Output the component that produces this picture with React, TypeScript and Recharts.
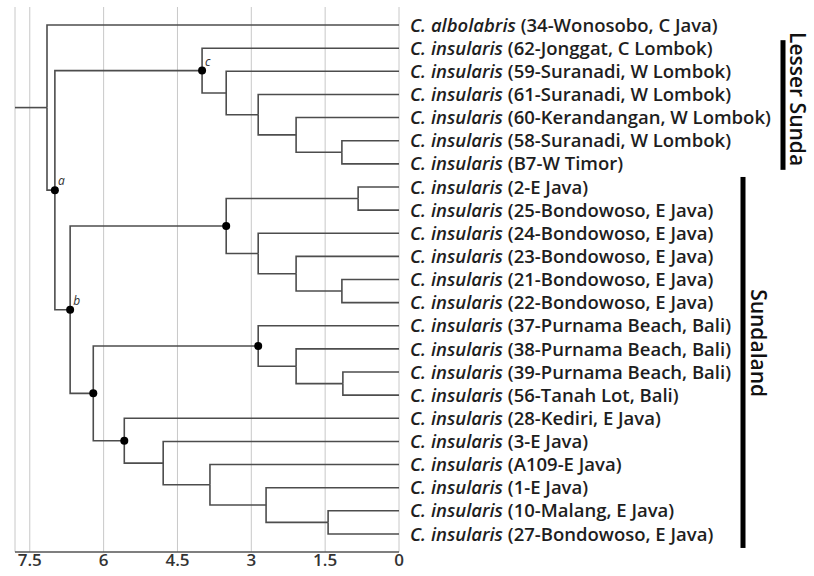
import { ComposedChart, Line, Scatter, XAxis, YAxis, CartesianGrid } from 'recharts';

// tips, top to bottom
const tipSpecies = [
  'albolabris', 'insularis', 'insularis', 'insularis', 'insularis', 'insularis', 'insularis',
  'insularis', 'insularis', 'insularis', 'insularis', 'insularis', 'insularis',
  'insularis', 'insularis', 'insularis', 'insularis',
  'insularis', 'insularis', 'insularis', 'insularis', 'insularis', 'insularis',
];
const tipLocality = [
  '34-Wonosobo, C Java', '62-Jonggat, C Lombok', '59-Suranadi, W Lombok', '61-Suranadi, W Lombok',
  '60-Kerandangan, W Lombok', '58-Suranadi, W Lombok', 'B7-W Timor',
  '2-E Java', '25-Bondowoso, E Java', '24-Bondowoso, E Java', '23-Bondowoso, E Java',
  '21-Bondowoso, E Java', '22-Bondowoso, E Java',
  '37-Purnama Beach, Bali', '38-Purnama Beach, Bali', '39-Purnama Beach, Bali', '56-Tanah Lot, Bali',
  '28-Kediri, E Java', '3-E Java', 'A109-E Java', '1-E Java', '10-Malang, E Java', '27-Bondowoso, E Java',
];

// internal nodes (ages in Ma), children are node ids or tip indices
const nodeIds = ['root', 'a', 'c', 'd', 'e', 'f', 'g', 'b', 'h', 'j', 'k', 'l', 'm', 'i', 'n', 'p', 'q', 'o', 'r', 's', 't', 'u'];
const nodeAges = [7.15, 6.99, 4.0, 3.51, 2.86, 2.09, 1.16, 6.68, 3.51, 0.83, 2.86, 2.09, 1.16, 6.21, 2.86, 2.09, 1.14, 5.58, 4.79, 3.84, 2.7, 1.44];
const nodeChildren: (string | number)[][] = [
  [0, 'a'], ['c', 'b'], [1, 'd'], [2, 'e'], [3, 'f'], [4, 'g'], [5, 6],
  ['h', 'i'], ['j', 'k'], [7, 8], [9, 'l'], [10, 'm'], [11, 12],
  ['n', 'o'], [13, 'p'], [14, 'q'], [15, 16],
  [17, 'r'], [18, 's'], [19, 't'], [20, 'u'], [21, 22],
];
const markedNodes = ['a', 'b', 'c', 'h', 'i', 'n', 'o'];
const nodeLabels: Record<string, string> = { a: 'a', b: 'b', c: 'c' };
const rootStubAge = 7.8;

const xTicks = [0, 1.5, 3, 4.5, 6, 7.5];
const clades = [
  { label: 'Lesser Sunda', first: 1, last: 6, labelRow: 3.2, barDx: 382, textDx: 396, top: 8, bottom: 6 },
  { label: 'Sundaland', first: 7, last: 22, labelRow: 13.75, barDx: 342, textDx: 357, top: 10, bottom: 14 },
];

const W = 814;
const H = 576;
const M = { top: 7, right: 0, bottom: 0, left: 15 };
const X_AXIS_H = 24;
const Y_DOMAIN: [number, number] = [-0.78, 22.78];
const ROW_PX = (H - M.top - M.bottom - X_AXIS_H) / (Y_DOMAIN[1] - Y_DOMAIN[0]);
const FONT = '"Open Sans", Lato, sans-serif';
const BRANCH = '#4d4d4d';

// layout: node y = mean of its children's rows
const nodeY: Record<string, number> = {};
const nodeAge: Record<string, number> = {};
nodeIds.forEach((id, k) => { nodeAge[id] = nodeAges[k]; });
const getY = (c: string | number): number => {
  if (typeof c === 'number') return c;
  if (nodeY[c] === undefined) {
    const kids = nodeChildren[nodeIds.indexOf(c)];
    nodeY[c] = kids.reduce((s, k) => s + getY(k), 0) / kids.length;
  }
  return nodeY[c];
};
nodeIds.forEach((id) => getY(id));
const getAge = (c: string | number) => (typeof c === 'number' ? 0 : nodeAge[c]);

const edges: { x: number; y: number }[][] = [];
nodeIds.forEach((id, k) => {
  nodeChildren[k].forEach((c) => {
    edges.push([
      { x: nodeAge[id], y: nodeY[id] },
      { x: nodeAge[id], y: getY(c) },
      { x: getAge(c), y: getY(c) },
    ]);
  });
});
edges.push([{ x: rootStubAge, y: nodeY.root }, { x: nodeAge.root, y: nodeY.root }]);

const dots = markedNodes.map((id) => ({ x: nodeAge[id], y: nodeY[id], id }));

const TipTick = ({ x, y, payload }: any) => {
  const i = payload.value as number;
  return (
    <g>
      <text x={x + 9} y={y} dy="0.36em" fontSize={18.5} fontFamily={FONT} fontWeight={600} fill="#1e1e1e">
        <tspan fontStyle="italic">C. {tipSpecies[i]}</tspan>
        <tspan> ({tipLocality[i]})</tspan>
      </text>
      {clades.filter((c) => c.first === i).map((c) => {
        const top = y - c.top;
        const h = (c.last - c.first) * ROW_PX + c.top + c.bottom;
        const ty = y + (c.labelRow - c.first) * ROW_PX;
        return (
          <g key={c.label}>
            <rect x={x + c.barDx - 2.5} y={top} width={5} height={h} fill="#000" />
            <text
              x={x + c.textDx}
              y={ty}
              transform={`rotate(90 ${x + c.textDx} ${ty})`}
              textAnchor="middle"
              dy="0.35em"
              fontSize={21}
              fontFamily={FONT}
              fontWeight={600}
              fill="#111"
            >
              {c.label}
            </text>
          </g>
        );
      })}
    </g>
  );
};

const NodeDot = ({ cx, cy, payload }: any) => (
  <g>
    <circle cx={cx} cy={cy} r={4} fill="#000" />
    {nodeLabels[payload.id] && (
      <text x={cx + 3} y={cy - 5} fontSize={12} fontStyle="italic" fontFamily={FONT} fill="#333">
        {nodeLabels[payload.id]}
      </text>
    )}
  </g>
);

export default function App() {
  return (
    <div style={{ position: 'absolute', left: 0, top: 0, background: '#fff' }}>
      <ComposedChart width={W} height={H} margin={M}>
        <CartesianGrid horizontal={false} stroke="#c8c8c8" strokeWidth={1} />
        <XAxis
          type="number"
          dataKey="x"
          domain={[0, 7.8]}
          reversed
          ticks={xTicks}
          height={X_AXIS_H}
          tickLine={false}
          tickSize={0}
          tickMargin={2}
          axisLine={{ stroke: '#555', strokeWidth: 1.5 }}
          tick={{ fontSize: 17, fontWeight: 600, fill: '#333', fontFamily: FONT }}
          allowDataOverflow
        />
        <YAxis
          type="number"
          dataKey="y"
          orientation="right"
          domain={Y_DOMAIN}
          reversed
          ticks={tipLocality.map((_, i) => i)}
          interval={0}
          width={W - 399}
          axisLine={false}
          tickLine={false}
          tickSize={0}
          tick={<TipTick />}
          allowDataOverflow
        />
        {edges.map((pts, k) => (
          <Line
            key={k}
            data={pts}
            dataKey="y"
            type="linear"
            stroke={BRANCH}
            strokeWidth={1.6}
            dot={false}
            activeDot={false}
            isAnimationActive={false}
          />
        ))}
        <Scatter data={dots} dataKey="y" shape={<NodeDot />} isAnimationActive={false} />
      </ComposedChart>
    </div>
  );
}
